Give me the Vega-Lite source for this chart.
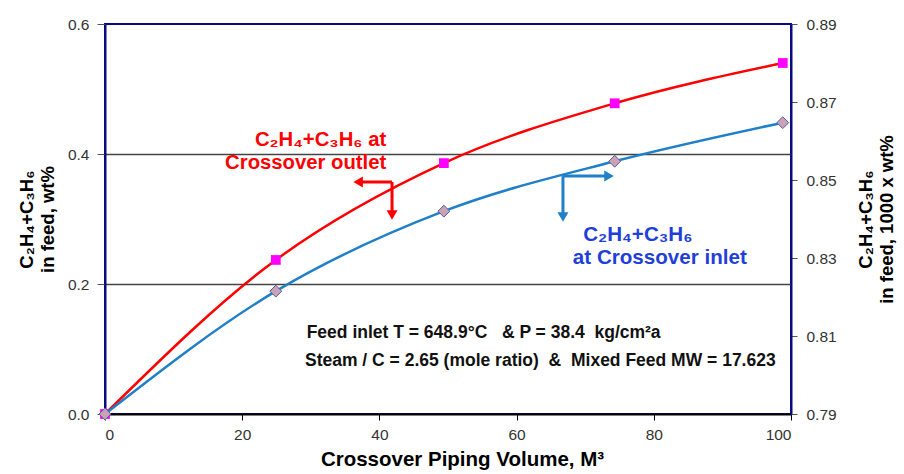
{
  "$schema": "https://vega.github.io/schema/vega-lite/v6.json",
  "autosize": {"type": "none"},
  "padding": {"left": 105, "top": 24, "right": 113, "bottom": 60},
  "width": 686,
  "height": 390,
  "background": "white",
  "config": {
    "font": "Liberation Sans",
    "view": {"stroke": "#0a0a80", "strokeWidth": 2},
    "axis": {"labelFont": "Liberation Sans", "titleFont": "Liberation Sans", "labelColor": "#333333", "titleColor": "#000000", "titleFontWeight": "bold", "labelFontSize": 15.5, "titleFontSize": 18.5}
  },
  "datasets": {
    "series": [
      {"volume": 0, "outlet": 0.0, "inlet": 0.79},
      {"volume": 24.9, "outlet": 0.237, "inlet": 0.8215},
      {"volume": 49.4, "outlet": 0.386, "inlet": 0.842},
      {"volume": 74.3, "outlet": 0.478, "inlet": 0.8548},
      {"volume": 98.8, "outlet": 0.540, "inlet": 0.8647}
    ],
    "arrows": [
      {"series": "outlet", "x": 41.84, "y": 0.357, "xe": 37.3, "ye": 0.357},
      {"series": "outlet", "x": 41.84, "y": 0.357, "xe": 41.84, "ye": 0.31},
      {"series": "inlet", "x": 66.76, "y": 0.366, "xe": 73.3, "ye": 0.366},
      {"series": "inlet", "x": 66.76, "y": 0.366, "xe": 66.76, "ye": 0.306}
    ],
    "heads": [
      {"series": "outlet", "dir": "left", "x": 36.9, "y": 0.357},
      {"series": "outlet", "dir": "down", "x": 41.84, "y": 0.306},
      {"series": "inlet", "dir": "right", "x": 73.47, "y": 0.366},
      {"series": "inlet", "dir": "down", "x": 66.76, "y": 0.303}
    ],
    "labels": [
      {"series": "outlet", "line": "C₂H₄+C₃H₆ at", "x": 41.0, "y": 0.4215},
      {"series": "outlet", "line": "Crossover outlet", "x": 41.0, "y": 0.386}
    ],
    "labels2": [
      {"series": "inlet", "line": "C₂H₄+C₃H₆", "x": 69.7, "y": 0.2754},
      {"series": "inlet", "line": "at Crossover inlet", "x": 68.2, "y": 0.24}
    ],
    "notes": [
      {"line": "Feed inlet T = 648.9°C \u00a0 & P = 38.4 \u00a0kg/cm²a", "x": 29.4, "y": 0.1246},
      {"line": "Steam / C = 2.65 (mole ratio) \u00a0& \u00a0Mixed Feed MW = 17.623", "x": 29.15, "y": 0.0815}
    ]
  },
  "layer": [
    {
      "layer": [
        {
          "data": {"name": "series"},
          "mark": {"type": "line", "color": "#ff0000", "strokeWidth": 2.5, "interpolate": "monotone"},
          "encoding": {
            "x": {"field": "volume", "type": "quantitative", "scale": {"domain": [0, 100], "nice": false},
              "axis": {"title": "Crossover Piping Volume, M³", "titleFontSize": 20.5, "titlePadding": 7, "titleX": 357, "values": [0, 20, 40, 60, 80, 100], "grid": false, "domainColor": "#000000", "domainWidth": 2, "tickColor": "#000000", "tickSize": 6, "labelPadding": 7}},
            "y": {"field": "outlet", "type": "quantitative", "scale": {"domain": [0, 0.6], "nice": false},
              "axis": {"title": ["C₂H₄+C₃H₆", "in feed, wt%"], "titlePadding": 10, "values": [0, 0.2, 0.4, 0.6], "format": ".1f", "grid": true,
                "gridColor": {"condition": {"test": "datum.value > 0.01 && datum.value < 0.59", "value": "#444444"}, "value": "transparent"},
                "gridWidth": 1.3, "domainColor": "#0a0a80", "domainWidth": 2, "tickColor": "#555555", "tickSize": 8, "labelPadding": 8}}
          }
        },
        {
          "data": {"name": "series"},
          "mark": {"type": "point", "shape": "square", "filled": true, "color": "#ff00ff", "size": 95, "opacity": 1},
          "encoding": {
            "x": {"field": "volume", "type": "quantitative"},
            "y": {"field": "outlet", "type": "quantitative"}
          }
        },
        {
          "data": {"name": "arrows"},
          "transform": [{"filter": "datum.series == 'outlet'"}],
          "mark": {"type": "rule", "color": "#ff0000", "strokeWidth": 3},
          "encoding": {
            "x": {"field": "x", "type": "quantitative"},
            "y": {"field": "y", "type": "quantitative"},
            "x2": {"field": "xe"},
            "y2": {"field": "ye"}
          }
        },
        {
          "data": {"name": "arrows"},
          "transform": [{"filter": "datum.series == 'inlet'"}],
          "mark": {"type": "rule", "color": "#1f7fc8", "strokeWidth": 3},
          "encoding": {
            "x": {"field": "x", "type": "quantitative"},
            "y": {"field": "y", "type": "quantitative"},
            "x2": {"field": "xe"},
            "y2": {"field": "ye"}
          }
        },
        {
          "data": {"name": "heads"},
          "transform": [{"filter": "datum.series == 'outlet'"}],
          "mark": {"type": "point", "filled": true, "color": "#ff0000", "size": 120, "opacity": 1},
          "encoding": {
            "x": {"field": "x", "type": "quantitative"},
            "y": {"field": "y", "type": "quantitative"},
            "shape": {"field": "dir", "type": "nominal", "scale": {"domain": ["left", "down", "right"], "range": ["triangle-left", "triangle-down", "triangle-right"]}, "legend": null}
          }
        },
        {
          "data": {"name": "heads"},
          "transform": [{"filter": "datum.series == 'inlet'"}],
          "mark": {"type": "point", "filled": true, "color": "#1f7fc8", "size": 120, "opacity": 1},
          "encoding": {
            "x": {"field": "x", "type": "quantitative"},
            "y": {"field": "y", "type": "quantitative"},
            "shape": {"field": "dir", "type": "nominal", "legend": null}
          }
        },
        {
          "data": {"name": "labels"},
          "mark": {"type": "text", "align": "right", "baseline": "middle", "color": "#ff0000", "fontSize": 20.3, "fontWeight": "bold"},
          "encoding": {
            "x": {"field": "x", "type": "quantitative"},
            "y": {"field": "y", "type": "quantitative"},
            "text": {"field": "line"}
          }
        },
        {
          "data": {"name": "labels2"},
          "mark": {"type": "text", "align": "left", "baseline": "middle", "color": "#1f3fd8", "fontSize": 20.6, "fontWeight": "bold"},
          "encoding": {
            "x": {"field": "x", "type": "quantitative"},
            "y": {"field": "y", "type": "quantitative"},
            "text": {"field": "line"}
          }
        },
        {
          "data": {"name": "notes"},
          "mark": {"type": "text", "align": "left", "baseline": "middle", "color": "#111111", "fontSize": 17.5, "fontWeight": "bold"},
          "encoding": {
            "x": {"field": "x", "type": "quantitative"},
            "y": {"field": "y", "type": "quantitative"},
            "text": {"field": "line"}
          }
        }
      ]
    },
    {
      "layer": [
        {
          "data": {"name": "series"},
          "mark": {"type": "line", "color": "#1f7fc8", "strokeWidth": 2.5, "interpolate": "monotone"},
          "encoding": {
            "x": {"field": "volume", "type": "quantitative"},
            "y": {"field": "inlet", "type": "quantitative", "scale": {"domain": [0.79, 0.89], "nice": false},
              "axis": {"orient": "right", "title": ["C₂H₄+C₃H₆", "in feed, 1000 x wt%"], "titleAngle": 270, "titlePadding": 19, "values": [0.79, 0.81, 0.83, 0.85, 0.87, 0.89], "format": ".2f", "grid": false, "domainColor": "#0a0a80", "domainWidth": 2, "tickColor": "#555555", "tickSize": 6, "labelPadding": 9}}
          }
        },
        {
          "data": {"name": "series"},
          "mark": {"type": "point", "shape": "diamond", "filled": true, "fill": "#c9a3b5", "stroke": "#5a5aa0", "strokeWidth": 1, "size": 140, "opacity": 1},
          "encoding": {
            "x": {"field": "volume", "type": "quantitative"},
            "y": {"field": "inlet", "type": "quantitative"}
          }
        }
      ]
    }
  ],
  "resolve": {"scale": {"y": "independent"}}
}
